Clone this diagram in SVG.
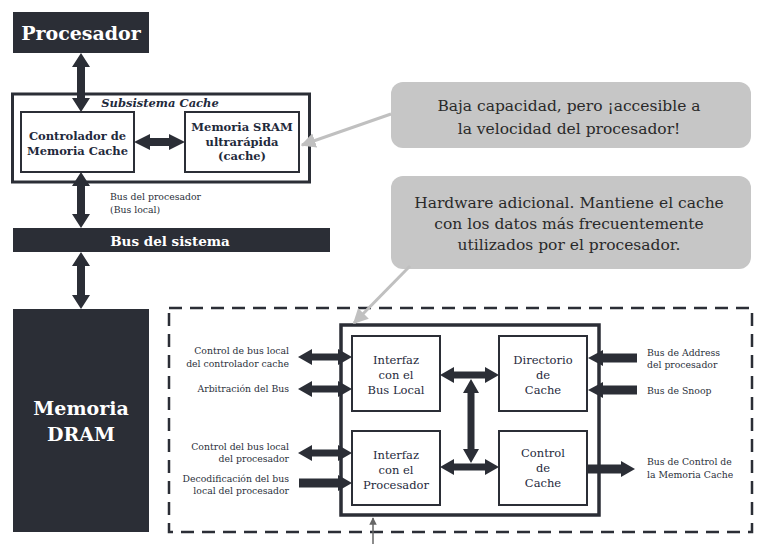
<svg xmlns="http://www.w3.org/2000/svg" width="768" height="544" viewBox="0 0 768 544" font-family="'DejaVu Serif','Liberation Serif','Noto Serif',Georgia,serif">
<defs>
<style>
text{font-family:"DejaVu Serif","Liberation Serif","Noto Serif",Georgia,serif;}
.dark{fill:#2b2e36;}
.wt{fill:#ffffff;font-weight:bold;text-anchor:middle;}
.box{fill:#ffffff;stroke:#2b2e36;stroke-width:2;}
.bt{fill:#1f2a3c;font-size:11.5px;font-weight:bold;text-anchor:middle;}
.it{fill:#1f2a3c;font-size:11.5px;text-anchor:middle;}
.lbl{fill:#2a2f3a;font-size:9.3px;}
.r{text-anchor:end;}
.call{fill:#c6c6c6;}
.ct{fill:#2a2a2a;font-size:15.5px;text-anchor:middle;}
.arr{fill:#2b2e36;}
.cl{stroke:#c0c0c0;stroke-width:3;fill:none;}
</style>
<marker id="ch" viewBox="0 0 10 10" refX="9" refY="5" markerWidth="5" markerHeight="5" orient="auto" markerUnits="strokeWidth">
<path d="M0,0 L10,5 L0,10 Z" fill="#c0c0c0"/>
</marker>
<marker id="th" viewBox="0 0 10 10" refX="9" refY="5" markerWidth="5" markerHeight="5" orient="auto" markerUnits="strokeWidth">
<path d="M0,0 L10,5 L0,10 Z" fill="#666"/>
</marker>
</defs>
<rect width="768" height="544" fill="#ffffff"/>

<g id="procesador">
<rect class="dark" x="13" y="12" width="136" height="41"/>
<text class="wt" x="81" y="40" font-size="19">Procesador</text>
</g>

<g id="subsistema">
<rect x="12.5" y="94" width="297" height="88" fill="#fff" stroke="#2b2e36" stroke-width="3"/>
<text x="160" y="107" font-size="11.5" font-weight="bold" font-style="italic" fill="#1f2a3c" text-anchor="middle">Subsistema Cache</text>
</g>
<g id="controlador">
<rect class="box" x="21" y="112" width="113" height="60"/>
<text class="bt" x="77.5" y="140">Controlador de</text>
<text class="bt" x="77.5" y="155">Memoria Cache</text>
</g>
<g id="sram">
<rect class="box" x="185" y="112" width="114" height="60"/>
<text class="bt" x="242" y="131">Memoria SRAM</text>
<text class="bt" x="242" y="146">ultrarápida</text>
<text class="bt" x="242" y="160">(cache)</text>
</g>

<g id="busproc">
<text class="lbl" x="110" y="200">Bus del procesador</text>
<text class="lbl" x="110" y="213">(Bus local)</text>
</g>

<g id="bussistema">
<rect class="dark" x="13" y="228" width="317" height="24"/>
<text class="wt" x="170" y="246" font-size="13.5">Bus del sistema</text>
</g>

<g id="dram">
<rect class="dark" x="13" y="309" width="136" height="223"/>
<text class="wt" x="81" y="415" font-size="19">Memoria</text>
<text class="wt" x="81" y="441" font-size="19">DRAM</text>
</g>

<g id="callout1">
<rect class="call" x="391" y="82" width="360" height="66" rx="12"/>
<text class="ct" x="569" y="111">Baja capacidad, pero ¡accesible a</text>
<text class="ct" x="569" y="134">la velocidad del procesador!</text>
</g>
<g id="callout2">
<rect class="call" x="391" y="176" width="360" height="93" rx="12"/>
<text class="ct" x="569" y="208">Hardware adicional. Mantiene el cache</text>
<text class="ct" x="569" y="229">con los datos más frecuentemente</text>
<text class="ct" x="569" y="250">utilizados por el procesador.</text>
</g>

<g id="dashedregion">
<rect x="169" y="308" width="583" height="224" fill="none" stroke="#2b2e36" stroke-width="2.5" stroke-dasharray="13,8"/>
</g>

<g id="controllerchip">
<rect x="341" y="325" width="258" height="190" fill="#fff" stroke="#2b2e36" stroke-width="3.5"/>
</g>
<g id="ifbus">
<rect class="box" x="352" y="336" width="88" height="75" stroke-width="1.5"/>
<text class="it" x="396" y="364">Interfaz</text>
<text class="it" x="396" y="379">con el</text>
<text class="it" x="396" y="394">Bus Local</text>
</g>
<g id="directorio">
<rect class="box" x="499" y="336" width="88" height="75" stroke-width="1.5"/>
<text class="it" x="543" y="364">Directorio</text>
<text class="it" x="543" y="379">de</text>
<text class="it" x="543" y="394">Cache</text>
</g>
<g id="ifproc">
<rect class="box" x="352" y="431" width="88" height="74" stroke-width="1.5"/>
<text class="it" x="396" y="459">Interfaz</text>
<text class="it" x="396" y="474">con el</text>
<text class="it" x="396" y="489">Procesador</text>
</g>
<g id="controlcache">
<rect class="box" x="499" y="431" width="88" height="74" stroke-width="1.5"/>
<text class="it" x="543" y="457">Control</text>
<text class="it" x="543" y="472">de</text>
<text class="it" x="543" y="487">Cache</text>
</g>

<g id="labels">
<text class="lbl r" x="289" y="354">Control de bus local</text>
<text class="lbl r" x="289" y="367">del controlador cache</text>
<text class="lbl r" x="289" y="392">Arbitración del Bus</text>
<text class="lbl r" x="289" y="450">Control del bus local</text>
<text class="lbl r" x="289" y="462">del procesador</text>
<text class="lbl r" x="289" y="482">Decodificación del bus</text>
<text class="lbl r" x="289" y="494">local del procesador</text>
<text class="lbl" x="647" y="356">Bus de Address</text>
<text class="lbl" x="647" y="368">del procesador</text>
<text class="lbl" x="647" y="394">Bus de Snoop</text>
<text class="lbl" x="647" y="465">Bus de Control de</text>
<text class="lbl" x="647" y="478">la Memoria Cache</text>
</g>

<g id="connectors">
<polygon class="arr" points="81,53 90,67 85,67 85,98 90,98 81,112 72,98 77,98 77,67 72,67"/>
<polygon class="arr" points="81,172 90,186 85,186 85,214 90,214 81,228 72,214 77,214 77,186 72,186"/>
<polygon class="arr" points="81,252 90,266 85,266 85,295 90,295 81,309 72,295 77,295 77,266 72,266"/>
<polygon class="arr" points="134,142 150,134 150,138 169,138 169,134 185,142 169,150 169,146 150,146 150,150"/>
<polygon class="arr" points="298,357 312,349 312,353.5 338,353.5 338,349 352,357 338,365 338,360.5 312,360.5 312,365"/>
<polygon class="arr" points="298,389 312,381 312,385.5 338,385.5 338,381 352,389 338,397 338,392.5 312,392.5 312,397"/>
<polygon class="arr" points="298,453 312,445 312,449.5 338,449.5 338,445 352,453 338,461 338,456.5 312,456.5 312,461"/>
<polygon class="arr" points="299,478.5 338,478.5 338,475 352,483 338,491 338,487.5 299,487.5"/>
<polygon class="arr" points="588,358 603,350 603,353.5 637,353.5 637,362.5 603,362.5 603,366"/>
<polygon class="arr" points="588,390 603,382 603,385.5 637,385.5 637,394.5 603,394.5 603,398"/>
<polygon class="arr" points="588,464.5 621,464.5 621,461 635,469 621,477 621,473.5 588,473.5"/>
<polygon class="arr" points="440,375 454,367 454,371.5 485,371.5 485,367 499,375 485,383 485,378.5 454,378.5 454,383"/>
<polygon class="arr" points="440,467 454,459 454,463.5 485,463.5 485,459 499,467 485,475 485,470.5 454,470.5 454,475"/>
<polygon class="arr" points="471,379 479,393 474.5,393 474.5,449 479,449 471,463 463,449 467.5,449 467.5,393 463,393"/>
<line class="cl" x1="391" y1="114" x2="302" y2="145" marker-end="url(#ch)"/>
<line class="cl" x1="410" y1="266" x2="354" y2="323" marker-end="url(#ch)"/>
<line x1="373" y1="544" x2="373" y2="518" stroke="#666" stroke-width="1.5" marker-end="url(#th)"/>
</g>
</svg>
